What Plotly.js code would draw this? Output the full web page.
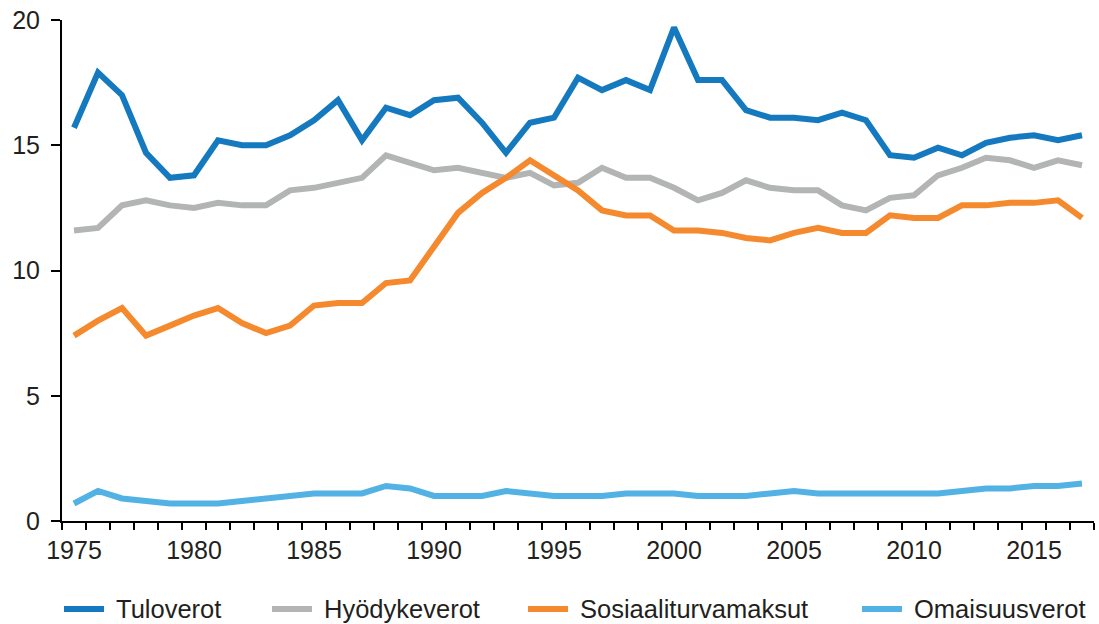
<!DOCTYPE html>
<html>
<head>
<meta charset="utf-8">
<script src="https://cdn.plot.ly/plotly-3.0.1.min.js"></script>
<style>html,body{margin:0;padding:0;background:#fff;}#chart{width:1099px;height:624px;}</style>
</head>
<body>
<div id="chart"></div>
<script>
const years = [];
for (let y = 1975; y <= 2017; y++) years.push(y);

const tuloverot = [15.7,17.9,17.0,14.7,13.7,13.8,15.2,15.0,15.0,15.4,16.0,16.8,15.2,
  16.5,16.2,16.8,16.9,15.9,14.7,15.9,16.1,17.7,17.2,17.6,17.2,19.7,17.6,17.6,
  16.4,16.1,16.1,16.0,16.3,16.0,14.6,14.5,14.9,14.6,15.1,15.3,15.4,15.2,15.4];
const hyodykeverot = [11.6,11.7,12.6,12.8,12.6,12.5,12.7,12.6,12.6,13.2,13.3,13.5,13.7,
  14.6,14.3,14.0,14.1,13.9,13.7,13.9,13.4,13.5,14.1,13.7,13.7,13.3,12.8,13.1,
  13.6,13.3,13.2,13.2,12.6,12.4,12.9,13.0,13.8,14.1,14.5,14.4,14.1,14.4,14.2];
const sosiaaliturvamaksut = [7.4,8.0,8.5,7.4,7.8,8.2,8.5,7.9,7.5,7.8,8.6,8.7,8.7,
  9.5,9.6,11.0,12.3,13.1,13.7,14.4,13.8,13.2,12.4,12.2,12.2,11.6,11.6,11.5,
  11.3,11.2,11.5,11.7,11.5,11.5,12.2,12.1,12.1,12.6,12.6,12.7,12.7,12.8,12.1];
const omaisuusverot = [0.7,1.2,0.9,0.8,0.7,0.7,0.7,0.8,0.9,1.0,1.1,1.1,1.1,
  1.4,1.3,1.0,1.0,1.0,1.2,1.1,1.0,1.0,1.0,1.1,1.1,1.1,1.0,1.0,
  1.0,1.1,1.2,1.1,1.1,1.1,1.1,1.1,1.1,1.2,1.3,1.3,1.4,1.4,1.5];

const seriesNames = ["Tuloverot","Hyödykeverot","Sosiaaliturvamaksut","Omaisuusverot"];
const seriesValues = [tuloverot, hyodykeverot, sosiaaliturvamaksut, omaisuusverot];
const seriesColors = ["#1479BE","#B3B5B5","#F5892E","#52B2E4"];

const xTickVals = [1975,1980,1985,1990,1995,2000,2005,2010,2015];
const yTickVals = [0,5,10,15,20];

// layout geometry (pixels)
const W = 1099, H = 624;
const M = {l: 62, r: 5, t: 20, b: 103};
const plotW = W - M.l - M.r, plotH = H - M.t - M.b;
const px2x = p => (p - M.l) / plotW;
const py2y = p => (H - M.b - p) / plotH;
const legendStartPx = [64, 272, 528, 862];
const legendLinePx = 40, legendTextGapPx = 52, legendYPx = 609;

const tickFont = {family: "Liberation Sans, Arial, sans-serif", size: 25, color: "#231F20"};
const legendFont = {family: "Liberation Sans, Arial, sans-serif", size: 25.5, color: "#231F20"};

const traces = seriesNames.map((n, i) => ({
  x: years, y: seriesValues[i], name: n, type: "scatter", mode: "lines",
  line: {color: seriesColors[i], width: 6, shape: "linear"},
  hoverinfo: "skip"
}));

const shapes = [], annotations = [];
seriesNames.forEach((n, i) => {
  shapes.push({type: "line", xref: "paper", yref: "paper",
    x0: px2x(legendStartPx[i]), x1: px2x(legendStartPx[i] + legendLinePx),
    y0: py2y(legendYPx), y1: py2y(legendYPx),
    line: {color: seriesColors[i], width: 6}});
  annotations.push({xref: "paper", yref: "paper", x: px2x(legendStartPx[i] + legendTextGapPx),
    y: py2y(legendYPx), xanchor: "left", yanchor: "middle", text: n, showarrow: false,
    font: legendFont, borderpad: 0, borderwidth: 0});
});

const layout = {
  width: W, height: H,
  margin: M,
  paper_bgcolor: "#fff", plot_bgcolor: "#fff",
  font: tickFont,
  showlegend: false,
  shapes: shapes, annotations: annotations,
  xaxis: {
    range: [1974.5, 2017.5], showgrid: false, zeroline: false,
    showline: true, linecolor: "#000", linewidth: 2,
    tickmode: "array", tickvals: xTickVals, ticks: "", ticklen: 0,
    ticklabelstandoff: 6,
    tickfont: tickFont, fixedrange: true,
    minor: {tick0: 1974.5, dtick: 1, ticks: "outside", ticklen: 7, tickwidth: 2, tickcolor: "#000", showgrid: false}
  },
  yaxis: {
    range: [0, 20], showgrid: false, zeroline: false,
    showline: true, linecolor: "#000", linewidth: 2,
    tickmode: "array", tickvals: yTickVals, ticks: "outside", ticklen: 9, tickwidth: 2, tickcolor: "#000",
    ticklabelstandoff: 6,
    tickfont: tickFont, fixedrange: true
  }
};

Plotly.newPlot("chart", traces, layout, {displayModeBar: false, staticPlot: true});
</script>
</body>
</html>
